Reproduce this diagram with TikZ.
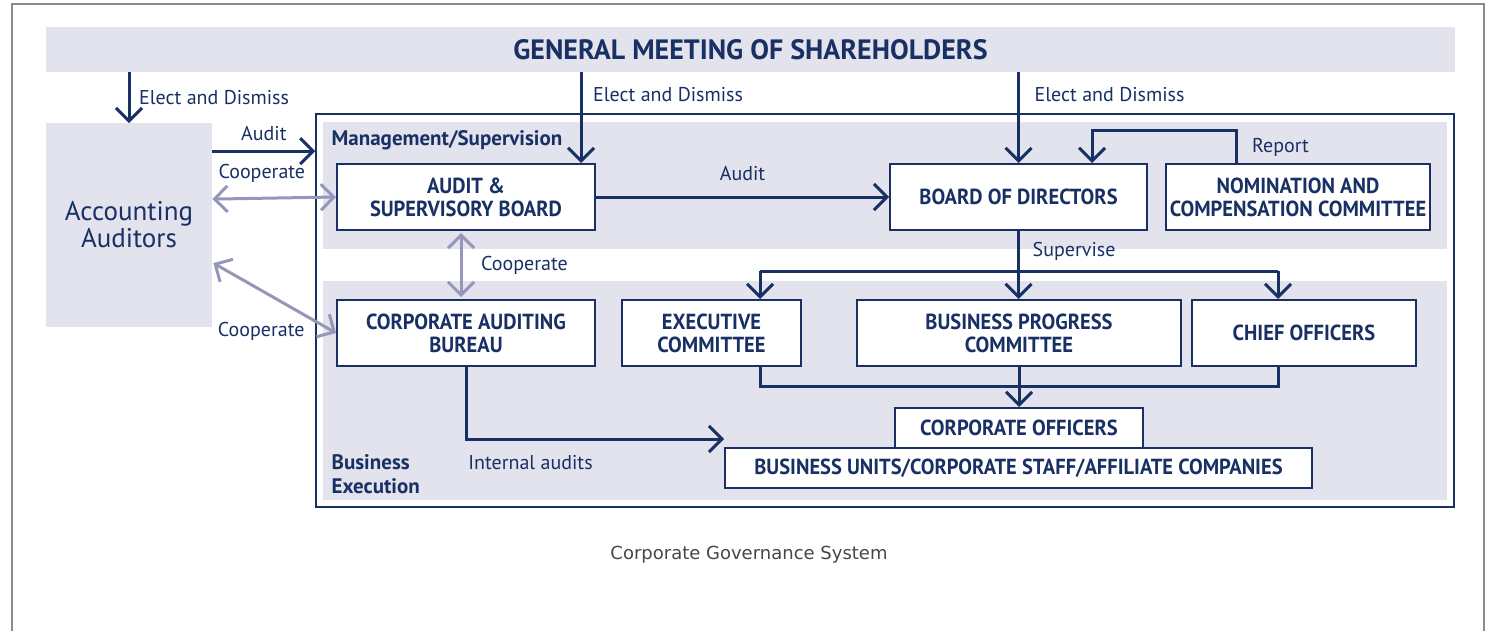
\documentclass[tikz,border=0pt]{standalone}
\usepackage{fontspec}
\setmainfont{PT Sans}
\newfontfamily\boxfont{PT Sans}[FakeStretch=0.94]
\newfontfamily\capfont{DejaVu Sans}
\usetikzlibrary{positioning, arrows.meta, calc}

\definecolor{navy}{RGB}{24,48,100}
\definecolor{panelgray}{RGB}{226,227,236}
\definecolor{lilac}{RGB}{150,150,186}
\definecolor{framegray}{RGB}{140,140,140}
\definecolor{captiongray}{RGB}{70,70,70}

\tikzset{barb/.tip={Straight Barb[length=6.5pt, width=13pt]}}

\begin{document}
\begin{tikzpicture}[
    x=0.5pt, y=-0.5pt,
    box/.style={draw=navy, line width=1pt, fill=white, text=navy, align=center, inner sep=0pt, font=\boxfont\fontsize{10.9}{11.5}\selectfont\bfseries},
    panel/.style={fill=panelgray, inner sep=0pt},
    flow/.style={draw=navy, line width=1.5pt, -barb},
    link/.style={draw=navy, line width=1.5pt},
    coop/.style={draw=lilac, line width=1.5pt, barb-barb},
    lbl/.style={text=navy, font=\fontsize{10}{11}\selectfont},
    head/.style={text=navy, font=\fontsize{10.5}{12}\selectfont\bfseries}
]
\useasboundingbox (0,0) rectangle (1488,631);

% Rahmen
\draw[framegray, line width=1pt] (12,631) -- (12,4) -- (1484,4) -- (1484,631);

% Flaechen
\node[panel, minimum width=704.5pt, minimum height=22.5pt, text=navy, font=\fontsize{14}{15}\selectfont\bfseries] (gms) at (750.5,49.5) {GENERAL MEETING OF SHAREHOLDERS};
\node[panel, minimum width=83pt, minimum height=101.5pt, text=navy, font=\fontsize{13.5}{12}\selectfont, align=center] (acc) at (129,225) {Accounting\\Auditors};
\node[draw=navy, line width=0.7pt, minimum width=569pt, minimum height=196.5pt, inner sep=0pt] (frame) at (885,310.5) {};
\node[panel, minimum width=562pt, minimum height=63.5pt] (mgp) at (885,185.5) {};
\node[panel, minimum width=562pt, minimum height=109.5pt] (exp) at (885,390.5) {};
\node[head, anchor=west] (mgl) at ($(mgp.north west)+(2,19)$) {Management/Supervision};
\node[head, anchor=west, align=left] (exl) at ($(exp.south west)+(2,-26)$) {Business\\Execution};

% Knoten
\node[box, minimum width=129pt, minimum height=33pt] (asb) at (466,197) {AUDIT \&\\SUPERVISORY BOARD};
\node[box, minimum width=128.5pt, minimum height=33pt] (bod) at (1018.5,197) {BOARD OF DIRECTORS};
\node[box, minimum width=132pt, minimum height=33pt] (ncc) at (1298,197) {NOMINATION AND\\COMPENSATION COMMITTEE};
\node[box, minimum width=129pt, minimum height=33pt] (cab) at (466,333) {CORPORATE AUDITING\\BUREAU};
\node[box, minimum width=89.5pt, minimum height=33pt] (exc) at (711.5,333) {EXECUTIVE\\COMMITTEE};
\node[box, minimum width=162pt, minimum height=33pt] (bpc) at (1019,333) {BUSINESS PROGRESS\\COMMITTEE};
\node[box, minimum width=112pt, minimum height=33pt] (cho) at (1304,333) {CHIEF OFFICERS};
\node[box, minimum width=293.5pt, minimum height=20pt] (buc) at (1018.5,468) {BUSINESS UNITS/CORPORATE STAFF/AFFILIATE COMPANIES};
\node[box, minimum width=124pt, minimum height=20pt] (cof) at (1019,428) {CORPORATE OFFICERS};

\node[text=captiongray, font=\capfont\fontsize{9}{10}\selectfont] (cap) at (749,555) {Corporate Governance System};

% Hilfspunkte
\coordinate (e2) at ($(asb.north east)+(-15,0)$);
\coordinate (r1) at ($(ncc.north)+(-62,0)$);
\coordinate (r2) at ($(bod.north)+(73.5,0)$);
\coordinate (rt) at ($(ncc.north)+(0,-32)$);
\coordinate (sv) at ($(bod.south)+(0,40)$);
\coordinate (xe) at ($(exc.north)+(48.5,0)$);
\coordinate (ce) at ($(cho.north)+(-26,0)$);
\coordinate (xs) at ($(exc.south)+(48.5,0)$);
\coordinate (cs) at ($(cho.south)+(-26,0)$);
\coordinate (mg) at ($(bpc.south)+(0,19)$);
\coordinate (ia) at ($(buc.north west)+(0,-8)$);
\coordinate (au) at ($(acc.north east)+(0,28)$);
\coordinate (c1) at ($(acc.north east)+(0,76)$);
\coordinate (c2) at ($(acc.north east)+(1,140)$);

% Kanten
\draw[flow] (gms.south -| acc) -- (acc.north) node[midway, right=1pt, lbl] {Elect and Dismiss};
\draw[flow] (gms.south -| e2) -- (e2) node[pos=0.24, right=2pt, lbl] {Elect and Dismiss};
\draw[flow] (gms.south -| bod) -- (bod.north) node[pos=0.24, right=4pt, lbl] {Elect and Dismiss};
\draw[flow] (au) -- (au -| frame.west) node[midway, above=1pt, lbl] {Audit};
\draw[coop] (c1) -- (asb.west) node[pos=0.4, above=4pt, lbl] {Cooperate};
\draw[coop] (c2) -- (cab.west) node[pos=0.39, below=12pt, lbl] {Cooperate};
\draw[coop] ($(asb.south)+(-5,2)$) -- ($(cab.north)+(-5,-2)$) node[midway, right=6pt, lbl] {Cooperate};
\draw[flow] (asb.east) -- (bod.west) node[midway, above=4pt, lbl] {Audit};
\draw[flow] (r1) -- node[right=4pt, lbl] {Report} (r1 |- rt) -| (r2);
\draw[link] (bod.south) -- (sv) node[midway, right=3pt, lbl] {Supervise};
\draw[link] (sv -| xe) -- (sv -| ce);
\draw[flow] (sv -| xe) -- (xe);
\draw[flow] (sv) -- (sv |- bpc.north);
\draw[flow] (sv -| ce) -- (ce);
\draw[link] (xs) |- (mg) -| (cs);
\draw[link] (bpc.south) -- (mg);
\draw[flow] (mg) -- (mg |- cof.north);
\draw[flow] (cab.south) |- (ia) node[pos=0.625, below=4pt, lbl] {Internal audits};

\end{tikzpicture}
\end{document}
